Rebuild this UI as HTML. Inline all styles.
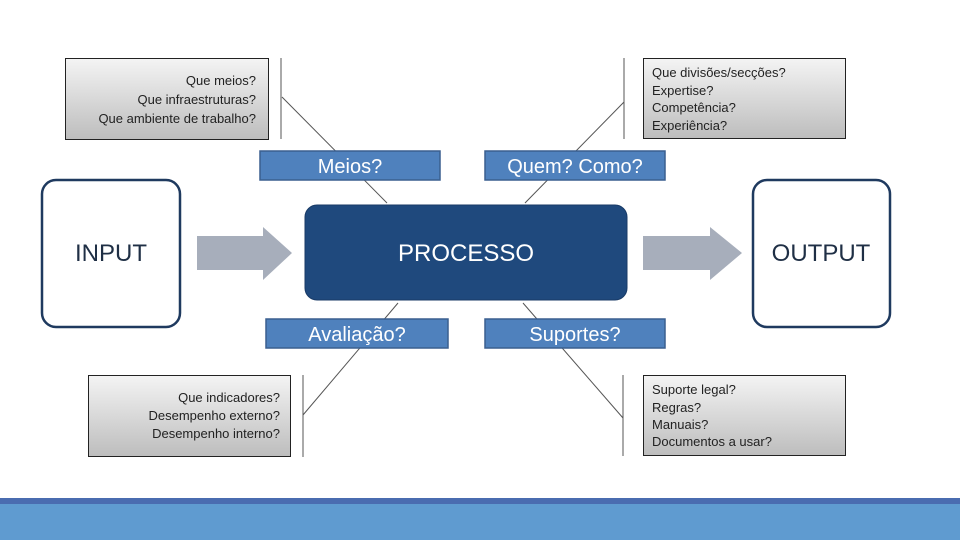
<!DOCTYPE html>
<html><head><meta charset="utf-8"><style>
html,body{margin:0;padding:0;background:#fff;}
svg{display:block;}
text{font-family:"Liberation Sans",sans-serif;}
</style></head><body>
<svg width="960" height="540" viewBox="0 0 960 540" xmlns="http://www.w3.org/2000/svg">
<defs>
<linearGradient id="g" x1="0" y1="0" x2="0" y2="1">
<stop offset="0" stop-color="#f4f4f4"/><stop offset="1" stop-color="#bdbdbd"/>
</linearGradient>
</defs>
<rect width="960" height="540" fill="#fff"/>
<!-- connector lines -->
<g stroke="#555" stroke-width="1">
<line x1="281" y1="58" x2="281" y2="139"/>
<line x1="282" y1="97" x2="387" y2="203"/>
<line x1="624" y1="58" x2="624" y2="139"/>
<line x1="624" y1="102" x2="525" y2="203"/>
<line x1="303" y1="375" x2="303" y2="457"/>
<line x1="398" y1="303" x2="303" y2="415"/>
<line x1="623" y1="375" x2="623" y2="456"/>
<line x1="523" y1="303" x2="623" y2="418"/>
</g>
<!-- grey boxes -->
<g fill="url(#g)" stroke="#222" stroke-width="1">
<rect x="65.5" y="58.5" width="203" height="81"/>
<rect x="643.5" y="58.5" width="202" height="80"/>
<rect x="88.5" y="375.5" width="202" height="81"/>
<rect x="643.5" y="375.5" width="202" height="80"/>
</g>
<g font-size="13" fill="#222">
<text x="256" y="85" text-anchor="end">Que meios?</text>
<text x="256" y="104" text-anchor="end">Que infraestruturas?</text>
<text x="256" y="123" text-anchor="end">Que ambiente de trabalho?</text>
<text x="652" y="77">Que divisões/secções?</text>
<text x="652" y="95">Expertise?</text>
<text x="652" y="112">Competência?</text>
<text x="652" y="130">Experiência?</text>
<text x="280" y="402" text-anchor="end">Que indicadores?</text>
<text x="280" y="420" text-anchor="end">Desempenho externo?</text>
<text x="280" y="438" text-anchor="end">Desempenho interno?</text>
<text x="652" y="394">Suporte legal?</text>
<text x="652" y="412">Regras?</text>
<text x="652" y="429">Manuais?</text>
<text x="652" y="446">Documentos a usar?</text>
</g>
<!-- blue labels -->
<g fill="#4f81bd" stroke="#3a5f8f" stroke-width="1.5">
<rect x="260" y="151" width="180" height="29"/>
<rect x="485" y="151" width="180" height="29"/>
<rect x="266" y="319" width="182" height="29"/>
<rect x="485" y="319" width="180" height="29"/>
</g>
<g font-size="20" fill="#fff" text-anchor="middle">
<text x="350" y="173">Meios?</text>
<text x="575" y="173">Quem? Como?</text>
<text x="357" y="341">Avaliação?</text>
<text x="575" y="341">Suportes?</text>
</g>
<!-- input/output -->
<rect x="42" y="180" width="138" height="147" rx="14" fill="#fff" stroke="#1f3a5f" stroke-width="2.5"/>
<rect x="753" y="180" width="137" height="147" rx="14" fill="#fff" stroke="#1f3a5f" stroke-width="2.5"/>
<text x="111" y="261" font-size="24" fill="#1f2f45" text-anchor="middle">INPUT</text>
<text x="821" y="261" font-size="24" fill="#1f2f45" text-anchor="middle">OUTPUT</text>
<!-- arrows -->
<polygon points="197,236 263,236 263,227 292,253 263,280 263,270 197,270" fill="#a7aebb"/>
<polygon points="643,236 710,236 710,227 742,253 710,280 710,270 643,270" fill="#a7aebb"/>
<!-- process -->
<rect x="305" y="205" width="322" height="95" rx="12" fill="#1f497d" stroke="#183a66" stroke-width="1"/>
<text x="466" y="261" font-size="24" fill="#fff" text-anchor="middle">PROCESSO</text>
<!-- bottom bar -->
<rect x="0" y="498" width="960" height="6" fill="#4a6cb0"/>
<rect x="0" y="504" width="960" height="36" fill="#5f9bd0"/>
</svg>
</body></html>
